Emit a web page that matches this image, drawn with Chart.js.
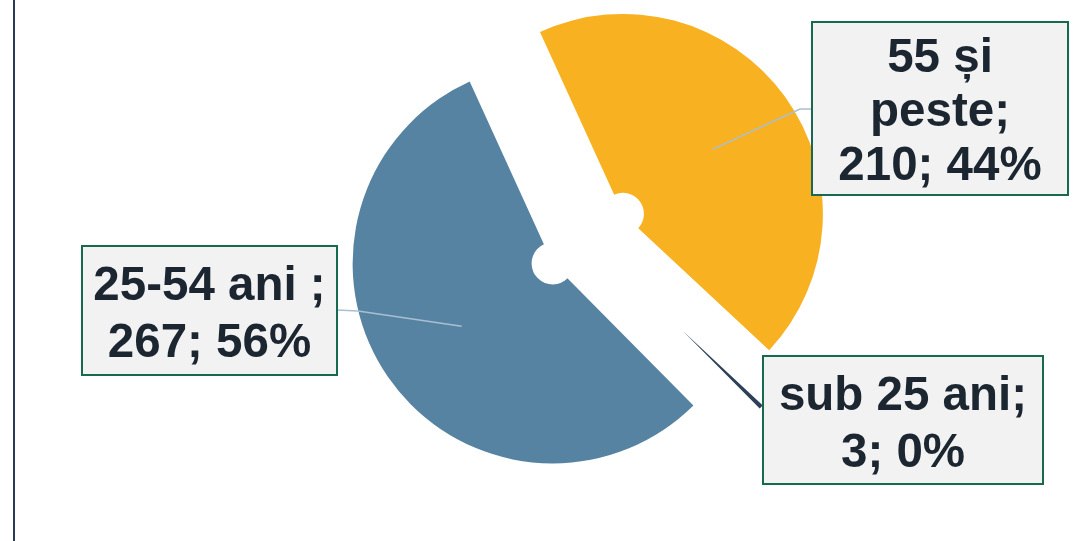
<!DOCTYPE html>
<html><head><meta charset="utf-8">
<script src="https://cdn.jsdelivr.net/npm/chart.js@4/dist/chart.umd.min.js"></script>
<style>html,body{margin:0;padding:0;background:#fff;overflow:hidden}canvas{display:block}</style>
</head><body>
<canvas id="c" width="1089" height="541"></canvas>
<script>
// ---- data ----
const categories = ['sub 25 ani', '25-54 ani ', '55 și peste'];
const categoryLines = [['sub 25 ani'], ['25-54 ani '], ['55 și', 'peste']];
const values = [3, 267, 210];
const percents = [0, 56, 44];
const colors = ['#2c4058', '#5783a3', '#f8b120'];

// ---- layout (styles / positions) ----
const EXPLODE = 43;
const boxes = [
  {x: 763, y: 356, w: 280, h: 128, baselines: [410, 467], leader: null},
  {x: 82, y: 246, w: 255, h: 129, baselines: [300, 357], leader: {elbow: [358, 311], end: [337, 310]}},
  {x: 812, y: 22, w: 256, h: 173, baselines: [72, 126, 180], leader: {elbow: [800, 109], end: [812, 109]}}
];

function labelLines(i) {
  const lines = categoryLines[i].slice();
  lines[lines.length - 1] = lines[lines.length - 1] + ';';
  lines.push(values[i] + '; ' + percents[i] + '%');
  return lines;
}

const explodePlugin = {
  id: 'explode',
  beforeDatasetDraw(chart, args) {
    const ctx = chart.ctx;
    args.meta.data.forEach(arc => {
      const mid = (arc.startAngle + arc.endAngle) / 2;
      ctx.save();
      ctx.translate(Math.cos(mid) * EXPLODE, Math.sin(mid) * EXPLODE);
      arc.draw(ctx, chart.chartArea);
      ctx.restore();
    });
    return false;
  },
  afterDraw(chart) {
    const ctx = chart.ctx;
    const arcs = chart.getDatasetMeta(0).data;
    // left rule
    ctx.save();
    ctx.fillStyle = '#2b3b55';
    ctx.fillRect(13, 0, 2, chart.height);
    // leader lines
    ctx.strokeStyle = '#a9bfd3';
    ctx.lineWidth = 1.5;
    boxes.forEach((b, i) => {
      if (!b.leader) return;
      const arc = arcs[i];
      const mid = (arc.startAngle + arc.endAngle) / 2;
      const r = EXPLODE + (arc.innerRadius + arc.outerRadius) / 2;
      const ax = arc.x + Math.cos(mid) * r;
      const ay = arc.y + Math.sin(mid) * r;
      ctx.beginPath();
      ctx.moveTo(ax, ay);
      ctx.lineTo(b.leader.elbow[0], b.leader.elbow[1]);
      ctx.lineTo(b.leader.end[0], b.leader.end[1]);
      ctx.stroke();
    });
    // boxes
    boxes.forEach((b, i) => {
      ctx.fillStyle = '#f2f2f2';
      ctx.fillRect(b.x, b.y, b.w, b.h);
      ctx.strokeStyle = '#17694f';
      ctx.lineWidth = 2;
      ctx.strokeRect(b.x, b.y, b.w, b.h);
      ctx.fillStyle = '#1b2631';
      ctx.font = 'bold 47.5px "Liberation Sans", Arial, sans-serif';
      ctx.textAlign = 'center';
      ctx.textBaseline = 'alphabetic';
      labelLines(i).forEach((t, k) => {
        ctx.fillText(t, b.x + b.w / 2, b.baselines[k]);
      });
    });
    ctx.restore();
  }
};

new Chart(document.getElementById('c'), {
  type: 'doughnut',
  data: {
    labels: categories,
    datasets: [{
      data: values,
      backgroundColor: colors,
      borderColor: '#ffffff',
      borderWidth: [3.5, 0, 0],
      radius: 200,
      cutout: '10.5%',
      rotation: 133
    }]
  },
  options: {
    responsive: false,
    animation: false,
    devicePixelRatio: 1,
    events: [],
    layout: {padding: {left: 87, right: 0, top: 0, bottom: 63}},
    plugins: {legend: {display: false}, tooltip: {enabled: false}}
  },
  plugins: [explodePlugin]
});
</script>
</body></html>
